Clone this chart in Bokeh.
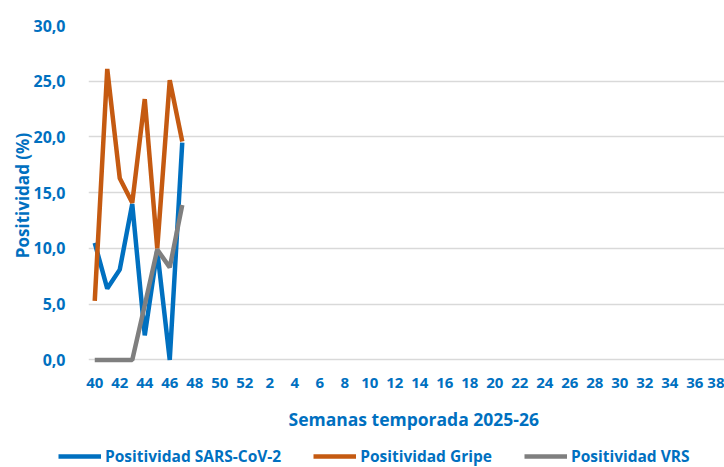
from bokeh.plotting import figure
from bokeh.models import Range1d, FixedTicker, Legend, LegendItem, Title
from bokeh.layouts import column
from bokeh.embed import file_html
from bokeh.resources import INLINE

weeks = list(range(40, 53)) + list(range(1, 40))
sars = [10.5, 6.4, 8.1, 14.0, 2.2, 9.8, 0.0, 19.5]
gripe = [5.3, 26.1, 16.3, 14.1, 23.4, 10.0, 25.1, 19.6]
vrs = [0.0, 0.0, 0.0, 0.0, 4.9, 9.9, 8.3, 13.9]
y_ticks = [0, 5, 10, 15, 20, 25, 30]
series_names = ["Positividad SARS-CoV-2", "Positividad Gripe", "Positividad VRS"]
x_title = "Semanas temporada 2025-26"
y_title = "Positividad (%)"

BLUE = "#0070C0"
ORANGE = "#C55A11"
GRAY = "#7F7F7F"
FONT = "Open Sans"

idx = list(range(len(weeks)))
tick_idx = idx[::2]
x_labels = {i: str(weeks[i]) for i in tick_idx}
y_labels = {t: f"{t},0" for t in y_ticks}

p = figure(frame_width=636, frame_height=340, output_backend="svg", toolbar_location=None,
           x_range=Range1d(-0.5, 50.38), y_range=Range1d(-0.5, 30),
           min_border_left=88, min_border_right=0, min_border_top=25,
           min_border_bottom=78)
p.outline_line_color = None
p.background_fill_color = "white"
p.border_fill_color = "white"

p.xgrid.visible = False
p.ygrid.ticker = FixedTicker(ticks=y_ticks)
p.ygrid.grid_line_color = "#D9D9D9"
p.ygrid.grid_line_width = 1.5

p.xaxis.ticker = FixedTicker(ticks=tick_idx)
p.xaxis.major_label_overrides = x_labels
p.yaxis.ticker = FixedTicker(ticks=y_ticks)
p.yaxis.major_label_overrides = y_labels
for ax in (p.xaxis, p.yaxis):
    ax.axis_line_color = None
    ax.major_tick_line_color = None
    ax.minor_tick_line_color = None
    ax.major_label_text_color = BLUE
    ax.major_label_text_font = FONT
    ax.major_label_text_font_style = "bold"
    ax.axis_label_text_color = BLUE
    ax.axis_label_text_font = FONT
    ax.axis_label_text_font_style = "bold"
p.xaxis.major_label_text_font_size = "15px"
p.yaxis.major_label_text_font_size = "16px"
p.xaxis.major_label_standoff = 6
p.yaxis.major_label_standoff = 17
p.yaxis.axis_label = y_title
p.yaxis.axis_label_text_font_size = "17px"
p.yaxis.axis_label_standoff = -4

p.add_layout(Title(text=x_title, align="left", offset=200, standoff=29,
                   text_color=BLUE, text_font=FONT, text_font_style="bold",
                   text_font_size="17.5px"), "below")

p.line(idx[:len(sars)], sars, line_color=BLUE, line_width=4.5)
p.line(idx[:len(gripe)], gripe, line_color=ORANGE, line_width=4.5)
p.line(idx[:len(vrs)], vrs, line_color=GRAY, line_width=4.5)

# legend strip below the chart
leg = figure(frame_width=724, frame_height=22, output_backend="svg", toolbar_location=None,
             x_axis_type=None, y_axis_type=None, min_border=0,
             x_range=Range1d(0, 1), y_range=Range1d(0, 1))
leg.outline_line_color = None
leg.xgrid.visible = False
leg.ygrid.visible = False
lr = [leg.line([5, 6], [5, 5], line_color=c, line_width=4.5) for c in (BLUE, ORANGE, GRAY)]
legend = Legend(items=[LegendItem(label=n, renderers=[r]) for n, r in zip(series_names, lr)],
                orientation="horizontal", location=(58, 0),
                label_text_color=BLUE, label_text_font=FONT,
                label_text_font_style="bold", label_text_font_size="15.5px",
                glyph_width=43, label_standoff=4, spacing=32,
                border_line_color=None, background_fill_alpha=0,
                padding=0, margin=0)
leg.add_layout(legend, "center")

layout = column(p, leg, spacing=0)
open("out.html", "w").write(file_html(layout, INLINE))
